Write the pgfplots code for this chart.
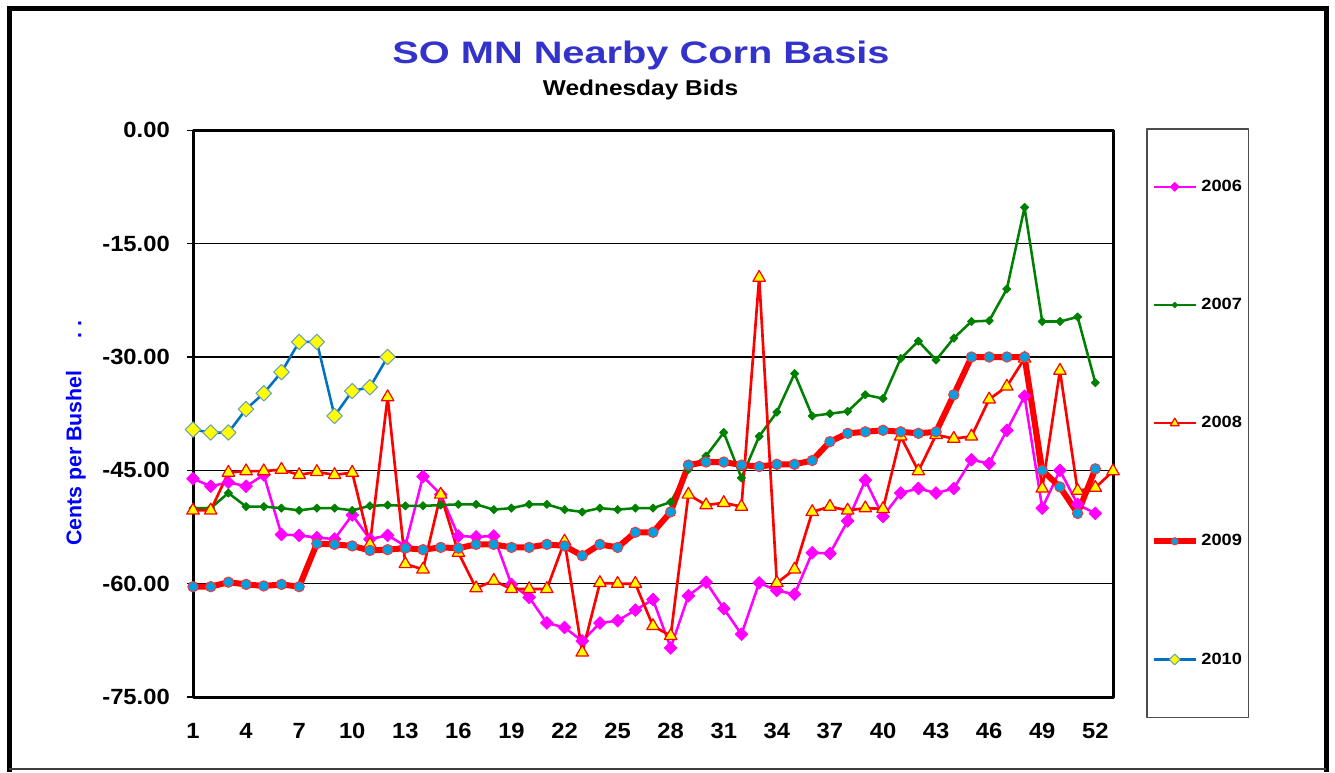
\documentclass[border=0pt]{standalone}
\usepackage{pgfplots}
\pgfplotsset{compat=1.18}
\usepackage{fontspec}
\setmainfont{Liberation Sans}
\newfontfamily\tickf[FakeStretch=1.08]{Liberation Sans}
\newfontfamily\legf[FakeStretch=1.12]{Liberation Sans}
\newfontfamily\titlef[FakeStretch=1.28]{Liberation Sans}
\newfontfamily\subf[FakeStretch=1.14]{Liberation Sans}
\definecolor{titleblue}{RGB}{51,51,204}
\definecolor{cmag}{RGB}{255,0,255}
\definecolor{cgreen}{RGB}{0,128,0}
\definecolor{cred}{RGB}{255,0,0}
\definecolor{cyel}{RGB}{255,255,0}
\definecolor{ccirc}{RGB}{0,160,225}
\definecolor{cblue}{RGB}{0,112,192}
\definecolor{cdiab}{RGB}{110,160,180}

\pgfplotstableread{
w v
1 -46.1
2 -47.1
3 -46.6
4 -47.1
5 -45.6
6 -53.5
7 -53.6
8 -53.9
9 -54.1
10 -50.9
11 -54.1
12 -53.6
13 -55.0
14 -45.8
15 -48.2
16 -53.7
17 -53.8
18 -53.7
19 -60.1
20 -61.8
21 -65.2
22 -65.8
23 -67.6
24 -65.2
25 -64.9
26 -63.5
27 -62.1
28 -68.5
29 -61.6
30 -59.8
31 -63.3
32 -66.7
33 -59.9
34 -60.9
35 -61.4
36 -55.9
37 -56.0
38 -51.7
39 -46.3
40 -51.1
41 -48.0
42 -47.4
43 -48.0
44 -47.4
45 -43.6
46 -44.1
47 -39.7
48 -35.2
49 -50.0
50 -45.0
51 -49.5
52 -50.7
}\tsix

\pgfplotstableread{
w v
1 -50.0
2 -50.0
3 -48.0
4 -49.8
5 -49.8
6 -50.0
7 -50.3
8 -50.0
9 -50.0
10 -50.3
11 -49.7
12 -49.6
13 -49.7
14 -49.7
15 -49.6
16 -49.5
17 -49.5
18 -50.2
19 -50.0
20 -49.5
21 -49.5
22 -50.2
23 -50.5
24 -50.0
25 -50.2
26 -50.0
27 -50.0
28 -49.2
29 -44.9
30 -43.1
31 -40.0
32 -46.0
33 -40.5
34 -37.3
35 -32.2
36 -37.8
37 -37.5
38 -37.2
39 -35.0
40 -35.5
41 -30.2
42 -27.9
43 -30.4
44 -27.5
45 -25.3
46 -25.2
47 -21.0
48 -10.2
49 -25.3
50 -25.3
51 -24.7
52 -33.4
}\tseven

\pgfplotstableread{
w v
1 -50.3
2 -50.3
3 -45.3
4 -45.1
5 -45.1
6 -44.9
7 -45.6
8 -45.2
9 -45.6
10 -45.3
11 -54.8
12 -35.3
13 -57.4
14 -58.1
15 -48.2
16 -55.9
17 -60.6
18 -59.6
19 -60.7
20 -60.7
21 -60.7
22 -54.4
23 -69.1
24 -59.9
25 -60.0
26 -60.0
27 -65.6
28 -66.9
29 -48.2
30 -49.6
31 -49.3
32 -49.8
33 -19.5
34 -59.9
35 -58.1
36 -50.5
37 -49.8
38 -50.3
39 -50.0
40 -50.1
41 -40.5
42 -45.1
43 -40.3
44 -40.8
45 -40.5
46 -35.6
47 -33.9
48 -30.2
49 -47.4
50 -31.8
51 -47.7
52 -47.3
53 -45.1
}\teight

\pgfplotstableread{
w v
1 -60.4
2 -60.4
3 -59.8
4 -60.1
5 -60.3
6 -60.1
7 -60.4
8 -54.7
9 -54.8
10 -55.0
11 -55.6
12 -55.5
13 -55.3
14 -55.5
15 -55.2
16 -55.3
17 -54.8
18 -54.8
19 -55.2
20 -55.2
21 -54.8
22 -55.0
23 -56.3
24 -54.8
25 -55.2
26 -53.2
27 -53.2
28 -50.5
29 -44.3
30 -43.9
31 -43.9
32 -44.3
33 -44.5
34 -44.2
35 -44.2
36 -43.7
37 -41.2
38 -40.1
39 -39.9
40 -39.7
41 -39.9
42 -40.1
43 -39.9
44 -35.0
45 -30.0
46 -30.0
47 -30.0
48 -30.0
49 -45.0
50 -47.2
51 -50.7
52 -44.8
}\tnine

\pgfplotstableread{
w v
1 -39.6
2 -40.0
3 -40.0
4 -36.9
5 -34.8
6 -32.0
7 -28.0
8 -28.0
9 -37.8
10 -34.5
11 -34.0
12 -30.0
}\tten

\begin{document}
\begin{tikzpicture}
\path[use as bounding box] (0pt,0pt) rectangle (1001.25pt,-579pt);
% outer frame
\draw[black, line width=3.75pt, line cap=rect] (7.1pt,-576.75pt) -- (7.1pt,-6pt) -- (994.5pt,-6pt) -- (994.5pt,-576.75pt);
\draw[black!75, line width=1.1pt] (7.1pt,-576.75pt) -- (994.5pt,-576.75pt);
% titles
\node[anchor=base, text=titleblue, font=\titlef\bfseries\fontsize{23.3}{26}\selectfont, inner sep=0pt] at (480.75pt,-47.5pt) {SO MN Nearby Corn Basis};
\node[anchor=base, text=black, font=\subf\bfseries\fontsize{16.1}{18}\selectfont, inner sep=0pt] at (480.4pt,-71.25pt) {Wednesday Bids};
% y label
\node[rotate=90, anchor=base west, text=blue, font=\bfseries\fontsize{16}{18}\selectfont, inner sep=0pt] at (61.1pt,-409.5pt) {Cents per Bushel\hspace{24pt}.\hspace{4.5pt}.};

\begin{axis}[
  at={(144.75pt,-522.75pt)}, anchor=south west,
  scale only axis, width=690pt, height=425pt,
  xmin=1, xmax=53, ymin=-75, ymax=0,
  clip=false,
  xtick={1,4,...,52},
  xticklabels={1,4,7,10,13,16,19,22,25,28,31,34,37,40,43,46,49,52},
  ytick={-75,-60,...,0},
  yticklabels={-75.00,-60.00,-45.00,-30.00,-15.00,0.00},
  ytick pos=left,
  /pgf/number format/assume math mode=true,
  ymajorgrids,
  grid style={black, line width=1pt},
  axis line style={black, line width=2.25pt},
  tick align=outside,
  major tick length=4.5pt,
  xtick style={draw=none},
  ytick style={black, line width=1pt},
  xticklabel style={font=\tickf\bfseries\fontsize{16.5}{18}\selectfont, anchor=north, inner sep=0pt, yshift=-15pt},
  yticklabel style={font=\tickf\bfseries\fontsize{16.5}{18}\selectfont, anchor=east, inner sep=0pt, xshift=-12.75pt},
  legend style={at={(axis description cs:1.0359,1.004)}, anchor=north west,
    draw=black!70, line width=1.1pt, fill=white,
    inner xsep=3pt, inner ysep=36.5pt, row sep=74.6pt, column sep=0pt,
    font=\legf\bfseries\fontsize{12.2}{14}\selectfont},
  legend cell align=left,
  legend image code/.code={%
    \begin{scope}[every mark/.append style={scale=0.7}]
    \draw[mark repeat=2,mark phase=2,#1] plot coordinates {(0pt,0pt) (15.75pt,0pt) (31.5pt,0pt)};
    \end{scope}},
  line join=round,
]
\addplot[cmag, line width=1.9pt, mark=square*, mark size=3.4pt, mark options={rotate=45, fill=cmag, draw=cmag, line width=0.5pt}] table[x=w,y=v] {\tsix};
\addlegendentry{2006}
\addplot[cgreen, line width=1.9pt, mark=square*, mark size=2.2pt, mark options={rotate=45, fill=cgreen, draw=cgreen, line width=0.5pt}] table[x=w,y=v] {\tseven};
\addlegendentry{2007}
\addplot[cred, line width=2pt, mark=triangle*, mark size=5.4pt, mark options={fill=cyel, draw=cred, line width=0.9pt}] table[x=w,y=v] {\teight};
\addlegendentry{2008}
\addplot[cred, line width=4.5pt, mark=*, mark size=3.9pt, mark options={fill=ccirc, draw=cred!80!white, line width=0.7pt}] table[x=w,y=v] {\tnine};
\addlegendentry{2009}
\addplot[cblue, line width=1.9pt, mark=square*, mark size=4.1pt, mark options={rotate=45, fill=cyel, draw=cdiab, line width=0.8pt}] table[x=w,y=v] {\tten};
\addlegendentry{2010}
\end{axis}
\end{tikzpicture}
\end{document}
